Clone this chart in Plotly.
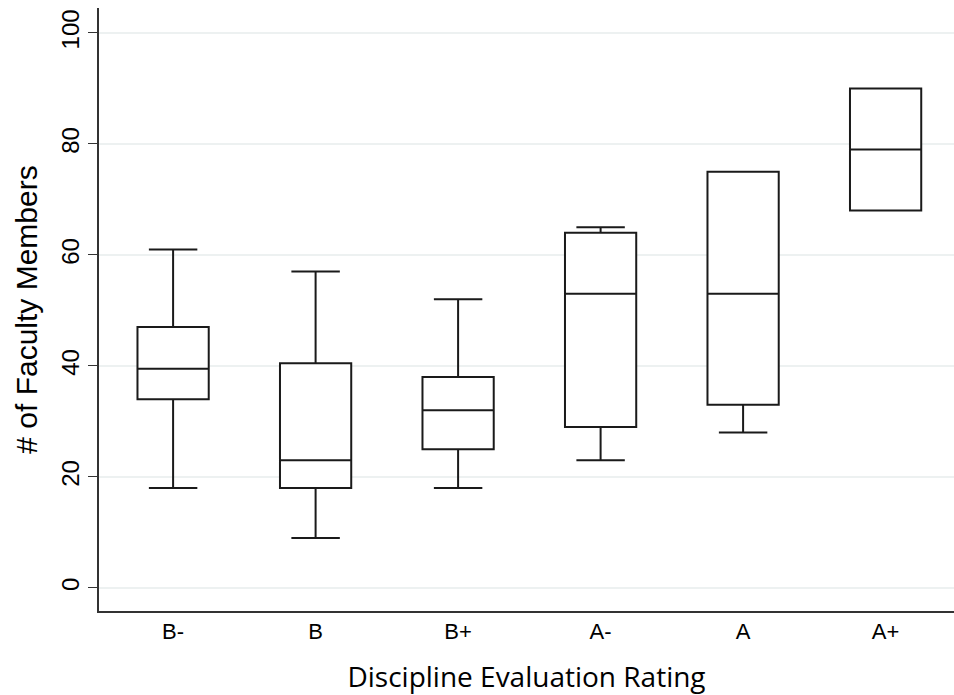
import plotly.graph_objects as go

categories = ["B-", "B", "B+", "A-", "A", "A+"]
lower_whisker = [18, 9, 18, 23, 28, 68]
q1 = [34, 18, 25, 29, 33, 68]
median = [39.5, 23, 32, 53, 53, 79]
q3 = [47, 40.5, 38, 64, 75, 90]
upper_whisker = [61, 57, 52, 65, 75, 90]

y_ticks = [0, 20, 40, 60, 80, 100]

fig = go.Figure()
fig.add_trace(go.Box(
    x=categories,
    q1=q1, median=median, q3=q3,
    lowerfence=lower_whisker, upperfence=upper_whisker,
    boxpoints=False,
    width=0.5,
    whiskerwidth=0.68,
    fillcolor="white",
    line=dict(color="#1a1a1a", width=2),
    showlegend=False,
    hoverinfo="skip",
))

fig.update_layout(
    width=954, height=695,
    margin=dict(l=99, r=0, t=8, b=84),
    paper_bgcolor="white",
    plot_bgcolor="white",
    font=dict(family="Liberation Sans, Arial", color="black"),
)

fig.update_xaxes(
    type="category",
    categoryorder="array", categoryarray=categories,
    range=[-0.52, 5.48],
    showline=True, linecolor="#333333", linewidth=1.5,
    ticks="", showgrid=False, zeroline=False,
    tickfont=dict(family="Liberation Sans, Arial", size=22),
    title=dict(text="Discipline Evaluation Rating",
               font=dict(family="Open Sans", size=28),
               standoff=26),
)

fig.update_yaxes(
    range=[-4.15, 104.5],
    tickvals=y_ticks,
    ticktext=[str(v) for v in y_ticks],
    tickangle=-90,
    ticks="outside", ticklen=9, tickcolor="#333333", tickwidth=1.2,
    showline=True, linecolor="#333333", linewidth=1.5,
    showgrid=True, gridcolor="#edf1f1", gridwidth=1.5,
    zeroline=False,
    tickfont=dict(family="Liberation Sans, Arial", size=24),
    title=dict(text="# of Faculty Members",
               font=dict(family="Liberation Sans, Arial", size=30),
               standoff=10),
)

fig.write_html("out.html", config={"displayModeBar": False},
               post_script="document.body.style.margin='0px';")
